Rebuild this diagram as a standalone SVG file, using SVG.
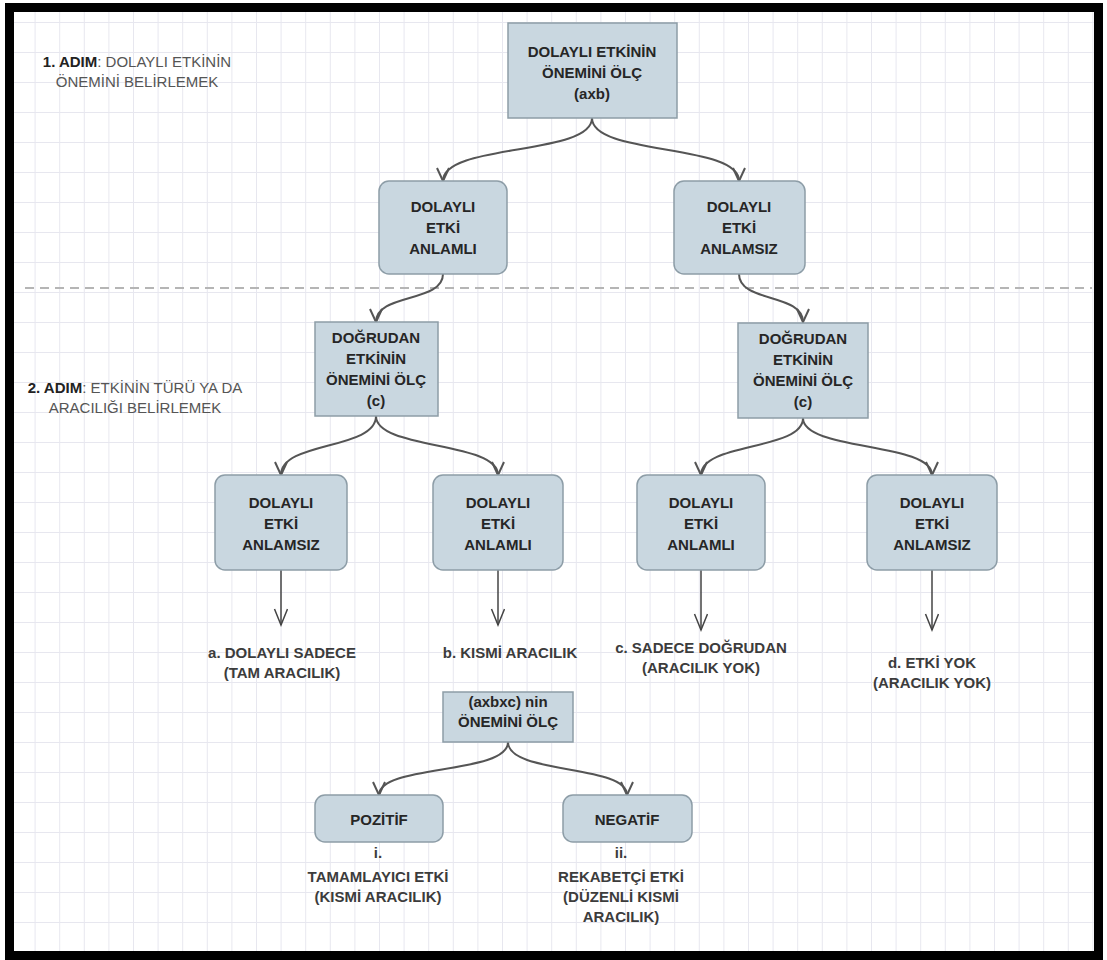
<svg xmlns="http://www.w3.org/2000/svg" width="1107" height="960" viewBox="0 0 1107 960">
  <defs>
    <pattern id="grid" patternUnits="userSpaceOnUse" x="10" y="22" width="24.6" height="30">
      <path d="M0.5,0 V30 M0,0.5 H24.6" fill="none" stroke="#e7e7ef" stroke-width="1"/>
    </pattern>
    <marker id="open" markerUnits="userSpaceOnUse" markerWidth="18" markerHeight="18" refX="14" refY="7" orient="auto">
      <path d="M1,1 L14,7 L1,13" fill="none" stroke="#555" stroke-width="2"/>
    </marker>
    <marker id="openThin" markerUnits="userSpaceOnUse" markerWidth="20" markerHeight="20" refX="17" refY="7" orient="auto">
      <path d="M1,0.5 L17,7 L1,13.5" fill="none" stroke="#444" stroke-width="1.5"/>
    </marker>
    <style>
      .box { fill: #c9d7e0; stroke: #8d9da7; stroke-width: 1.5; }
      .t { font-family: "Liberation Sans", Arial, sans-serif; font-size: 15px; font-weight: bold; fill: #262626; text-anchor: middle; }
      .lbl { font-family: "Liberation Sans", Arial, sans-serif; font-size: 15px; font-weight: bold; fill: #3c3c3c; text-anchor: middle; }
      .step { font-family: "Liberation Sans", Arial, sans-serif; font-size: 15px; fill: #555; text-anchor: middle; }
      .step .k { font-weight: bold; fill: #222; }
      .curve { fill: none; stroke: #555; stroke-width: 2; marker-end: url(#open); }
      .down { fill: none; stroke: #444; stroke-width: 1.5; marker-end: url(#openThin); }
    </style>
  </defs>

  <!-- page background and grid -->
  <rect x="0" y="0" width="1107" height="960" fill="#fff"/>
  <rect x="14" y="12" width="1080" height="939" fill="url(#grid)"/>

  <!-- section divider -->
  <line x1="25" y1="288" x2="1092" y2="288" stroke="#b5b5b5" stroke-width="2" stroke-dasharray="9 6"/>

  <!-- step captions -->
  <g id="step1">
    <text class="step" x="137" y="67"><tspan class="k">1. ADIM</tspan>: DOLAYLI ETKİNİN</text>
    <text class="step" x="137" y="87">ÖNEMİNİ BELİRLEMEK</text>
  </g>
  <g id="step2">
    <text class="step" x="135" y="393"><tspan class="k">2. ADIM</tspan>: ETKİNİN TÜRÜ YA DA</text>
    <text class="step" x="135" y="413">ARACILIĞI BELİRLEMEK</text>
  </g>

  <!-- connectors -->
  <g id="connectors">
    <path class="curve" d="M592,118 C592,156 443,143 443,181"/>
    <path class="curve" d="M592,118 C592,156 739,143 739,181"/>
    <path class="curve" d="M443,274 C443,303 376,293 376,322"/>
    <path class="curve" d="M739,274 C739,303 803,293 803,322"/>
    <path class="curve" d="M376,416 C376,450 281,441 281,475"/>
    <path class="curve" d="M376,416 C376,450 498,441 498,475"/>
    <path class="curve" d="M803,418 C803,451 701,442 701,475"/>
    <path class="curve" d="M803,418 C803,451 932,442 932,475"/>
    <path class="down" d="M281,570 V625"/>
    <path class="down" d="M498,570 V625"/>
    <path class="down" d="M701,570 V630"/>
    <path class="down" d="M932,570 V630"/>
    <path class="curve" d="M508,742 C508,775 379,764 379,795"/>
    <path class="curve" d="M508,742 C508,775 627,764 627,795"/>
  </g>

  <!-- level 1 -->
  <g id="n-axb">
    <rect class="box" x="508" y="23" width="169" height="95"/>
    <text class="t" x="592" y="57">DOLAYLI ETKİNİN</text>
    <text class="t" x="592" y="78">ÖNEMİNİ ÖLÇ</text>
    <text class="t" x="592" y="99">(axb)</text>
  </g>

  <!-- level 2 -->
  <g id="n-anlamli-1">
    <rect class="box" x="379" y="181" width="128" height="93" rx="10"/>
    <text class="t" x="443" y="212">DOLAYLI</text>
    <text class="t" x="443" y="233">ETKİ</text>
    <text class="t" x="443" y="254">ANLAMLI</text>
  </g>
  <g id="n-anlamsiz-1">
    <rect class="box" x="674" y="181" width="131" height="93" rx="10"/>
    <text class="t" x="739" y="212">DOLAYLI</text>
    <text class="t" x="739" y="233">ETKİ</text>
    <text class="t" x="739" y="254">ANLAMSIZ</text>
  </g>

  <!-- level 3 -->
  <g id="n-c-left">
    <rect class="box" x="315" y="322" width="123" height="94"/>
    <text class="t" x="376" y="343">DOĞRUDAN</text>
    <text class="t" x="376" y="364">ETKİNİN</text>
    <text class="t" x="376" y="385">ÖNEMİNİ ÖLÇ</text>
    <text class="t" x="376" y="406">(c)</text>
  </g>
  <g id="n-c-right">
    <rect class="box" x="738" y="323" width="130" height="95"/>
    <text class="t" x="803" y="344">DOĞRUDAN</text>
    <text class="t" x="803" y="365">ETKİNİN</text>
    <text class="t" x="803" y="386">ÖNEMİNİ ÖLÇ</text>
    <text class="t" x="803" y="407">(c)</text>
  </g>

  <!-- level 4 -->
  <g id="n-a">
    <rect class="box" x="215" y="475" width="132" height="95" rx="10"/>
    <text class="t" x="281" y="508">DOLAYLI</text>
    <text class="t" x="281" y="529">ETKİ</text>
    <text class="t" x="281" y="550">ANLAMSIZ</text>
  </g>
  <g id="n-b">
    <rect class="box" x="433" y="475" width="130" height="95" rx="10"/>
    <text class="t" x="498" y="508">DOLAYLI</text>
    <text class="t" x="498" y="529">ETKİ</text>
    <text class="t" x="498" y="550">ANLAMLI</text>
  </g>
  <g id="n-c">
    <rect class="box" x="637" y="475" width="128" height="95" rx="10"/>
    <text class="t" x="701" y="508">DOLAYLI</text>
    <text class="t" x="701" y="529">ETKİ</text>
    <text class="t" x="701" y="550">ANLAMLI</text>
  </g>
  <g id="n-d">
    <rect class="box" x="867" y="475" width="130" height="95" rx="10"/>
    <text class="t" x="932" y="508">DOLAYLI</text>
    <text class="t" x="932" y="529">ETKİ</text>
    <text class="t" x="932" y="550">ANLAMSIZ</text>
  </g>

  <!-- outcomes -->
  <g id="out-a">
    <text class="lbl" x="282" y="658">a. DOLAYLI SADECE</text>
    <text class="lbl" x="282" y="678">(TAM ARACILIK)</text>
  </g>
  <g id="out-b">
    <text class="lbl" x="510" y="658">b. KISMİ ARACILIK</text>
  </g>
  <g id="out-c">
    <text class="lbl" x="701" y="653">c. SADECE DOĞRUDAN</text>
    <text class="lbl" x="701" y="673">(ARACILIK YOK)</text>
  </g>
  <g id="out-d">
    <text class="lbl" x="932" y="668">d. ETKİ YOK</text>
    <text class="lbl" x="932" y="688">(ARACILIK YOK)</text>
  </g>

  <!-- partial mediation branch -->
  <g id="n-axbxc">
    <rect class="box" x="443" y="692" width="130" height="50"/>
    <text class="t" x="508" y="707">(axbxc) nin</text>
    <text class="t" x="508" y="727">ÖNEMİNİ ÖLÇ</text>
  </g>
  <g id="n-pozitif">
    <rect class="box" x="315" y="795" width="128" height="47" rx="10"/>
    <text class="t" x="379" y="825">POZİTİF</text>
  </g>
  <g id="n-negatif">
    <rect class="box" x="563" y="795" width="129" height="47" rx="10"/>
    <text class="t" x="627" y="825">NEGATİF</text>
  </g>
  <g id="out-i">
    <text class="lbl" x="378" y="858">i.</text>
    <text class="lbl" x="378" y="882">TAMAMLAYICI ETKİ</text>
    <text class="lbl" x="378" y="902">(KISMİ ARACILIK)</text>
  </g>
  <g id="out-ii">
    <text class="lbl" x="621" y="858">ii.</text>
    <text class="lbl" x="621" y="882">REKABETÇİ ETKİ</text>
    <text class="lbl" x="621" y="902">(DÜZENLİ KISMİ</text>
    <text class="lbl" x="621" y="922">ARACILIK)</text>
  </g>

  <!-- frame -->
  <rect x="9.5" y="7.5" width="1089" height="948" fill="none" stroke="#000" stroke-width="9"/>
</svg>
